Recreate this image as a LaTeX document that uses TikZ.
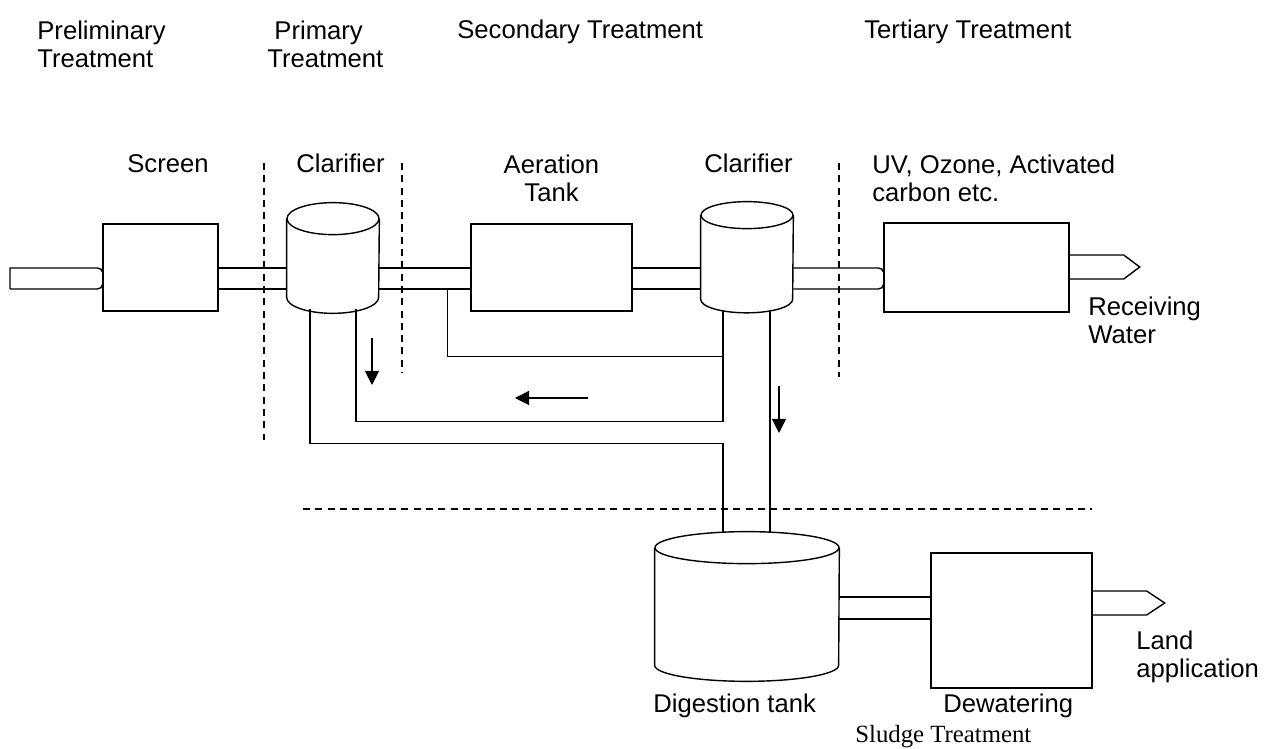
\documentclass[tikz,border=0pt]{standalone}
\usepackage{fontspec}
\usetikzlibrary{arrows.meta,calc}
\newfontfamily\arial{Liberation Sans}
\newfontfamily\tnr{Liberation Serif}
\newlength{\px}
\setlength{\px}{0.02cm}

% cylinder outline round an invisible body node
\newcommand{\drum}[3]{%
  \draw[pipe,fill=white] (#1.north west) -- (#1.south west)
    arc[start angle=180,end angle=360,x radius=#2,y radius=#3] -- (#1.north east);
  \draw[pipe,fill=white] (#1.north) ellipse[x radius=#2,y radius=#3];
}

\tikzset{
  unit/.style={draw,thick,fill=white,inner sep=0pt},
  body/.style={inner sep=0pt,minimum width=92\px},
  pipe/.style={thick},
  flow/.style={thick},
  divide/.style={thick,dash pattern=on 4pt off 3pt},
  dirn/.style={semithick,-{Triangle[length=8pt,width=8pt]}},
  lbl/.style={font={\arial\fontsize{14.6pt}{16.4pt}\selectfont},inner sep=0pt,anchor=base west,align=left},
}

\begin{document}
\begin{tikzpicture}[x=0.02cm,y=0.02cm]
  \useasboundingbox (0,0) rectangle (1265,749);

  % treatment units
  \node[unit,minimum width=115\px,minimum height=87\px] (screen) at (160.5,481.5) {};
  \node[unit,minimum width=161\px,minimum height=87\px] (aer) at (551.5,481.5) {};
  \node[unit,minimum width=185\px,minimum height=89\px] (tert) at (976.5,481.5) {};
  \node[unit,minimum width=161\px,minimum height=135\px] (dew) at (1011.5,128.5) {};
  \node[body,minimum height=78\px] (pc) at (333,491) {};
  \node[body,minimum height=83.5\px] (sc) at (747,491.75) {};
  \node[body,minimum width=184\px,minimum height=117\px] (dig) at (747,142.5) {};
  \drum{pc}{46}{16}
  \drum{sc}{46}{13.5}
  \drum{dig}{92}{16}

  % pipe levels
  \coordinate (pt) at (0,481);
  \coordinate (pb) at (0,460);
  \coordinate (lt) at (0,152);
  \coordinate (lb) at (0,130);
  \coordinate (lo) at (0,158);
  \coordinate (inlet) at (10,481);

  \foreach \a/\b in {screen/pc,pc/aer,aer/sc}{
    \draw[pipe] (\a.east |- pt) -- (\b.west |- pt);
    \draw[pipe] (\a.east |- pb) -- (\b.west |- pb);
  }
  \draw[pipe] (dig.east |- lt) -- (dew.west |- lt);
  \draw[pipe] (dig.east |- lb) -- (dew.west |- lb);

  % pipes with flared ends
  \draw[pipe] (inlet |- pb) -- (inlet) -- ([xshift=-5\px]screen.west |- pt)
    arc[start angle=90,end angle=0,x radius=5,y radius=4];
  \draw[pipe] (inlet |- pb) -- ([xshift=-5\px]screen.west |- pb)
    arc[start angle=270,end angle=360,x radius=5,y radius=4];
  \draw[pipe] (sc.east |- pt) -- ([xshift=-5\px]tert.west |- pt)
    arc[start angle=90,end angle=0,x radius=5,y radius=4];
  \draw[pipe] (sc.east |- pb) -- ([xshift=-5\px]tert.west |- pb)
    arc[start angle=270,end angle=360,x radius=5,y radius=4];

  % outlets
  \draw[pipe] ([yshift=12.5\px]tert.east) -- ++(54,0) -- ++(16,-12) -- ++(-16,-12) -- ++(-54,0);
  \draw[pipe] (dew.east |- lo) -- ++(54,0) -- ++(18,-12) -- ++(-18,-12) -- ++(-54,0);

  % sludge lines
  \coordinate (pcL) at ($(pc.south)+(-23,-12)$);
  \coordinate (pcR) at ($(pc.south)+(23,-12)$);
  \coordinate (scL) at ($(sc.south)+(-24,-11)$);
  \coordinate (scR) at ($(sc.south)+(23,-11)$);
  \coordinate (dgL) at ($(dig.north)+(-24,15)$);
  \coordinate (dgR) at ($(dig.north)+(23,15)$);
  \draw[flow] (scL) -- ++(0,-111) -| (pcR);
  \draw[flow] ($(scL)+(0,-46)$) -| ($(aer.west |- pb)+(-23,0)$);
  \draw[flow] (pcL) -- ++(0,-134) -| (dgL);
  \draw[flow] (scR) -- (dgR);

  \draw[dirn] (372,411) -- (372,364);
  \draw[dirn] (588,351) -- (515,351);
  \draw[dirn] (779,363) -- (779,316);

  % stage boundaries
  \draw[divide] (264,586) -- (264,309);
  \draw[divide] (402,586) -- (402,376);
  \draw[divide] (839,586) -- (839,372);
  \draw[divide] (303,240) -- (1092,240);

  % labels
  \node[lbl] at (37,681) {Preliminary\\Treatment};
  \node[lbl] at (267,681) {\ Primary\\Treatment};
  \node[lbl] at (457,710) {Secondary Treatment};
  \node[lbl] at (864,710) {Tertiary Treatment};
  \node[lbl] at (127,576) {Screen};
  \node[lbl] at (296,576) {Clarifier};
  \node[lbl,align=center,anchor=base] at (551.5,547) {Aeration\\Tank};
  \node[lbl] at (704,576) {Clarifier};
  \node[lbl] at (872,547) {UV, Ozone, Activated\\carbon etc.};
  \node[lbl] at (1088,405) {Receiving\\Water};
  \node[lbl] at (1136,71) {Land\\application};
  \node[lbl] at (653,36) {Digestion tank};
  \node[lbl] at (943,36) {Dewatering};
  \node[lbl,font={\tnr\fontsize{14.1pt}{16pt}\selectfont}] at (855,6) {Sludge Treatment};
\end{tikzpicture}
\end{document}
